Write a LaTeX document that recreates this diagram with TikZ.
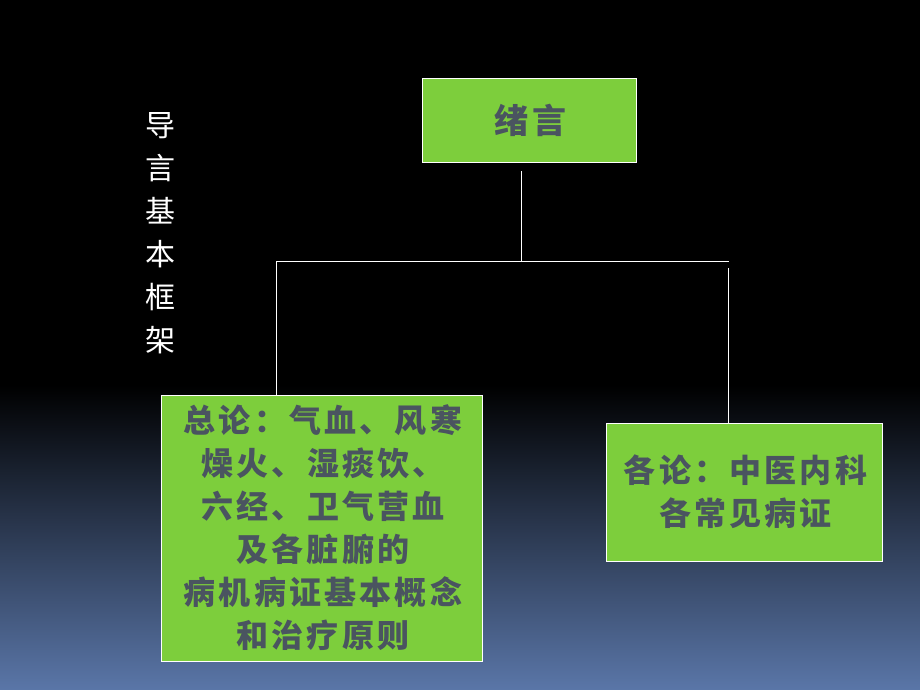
\documentclass[tikz,border=0pt]{standalone}
\usepackage{fontspec}
\newfontfamily\cjk{Noto Sans CJK SC}
\newfontfamily\cjksp{Noto Sans CJK SC}[LetterSpace=10]
\definecolor{boxgreen}{RGB}{125,206,60}
\definecolor{boxtext}{RGB}{74,84,96}
\definecolor{bgblue}{RGB}{90,118,168}
\begin{document}
\begin{tikzpicture}[x=1pt,y=-1pt,
  greenbox/.style={draw=white,line width=0.8pt,fill=boxgreen,inner sep=0pt,
    text=boxtext,font=\cjksp\bfseries\fontsize{32}{43}\selectfont,align=center},
  link/.style={draw=white,line width=0.9pt}]
\useasboundingbox (0,0) rectangle (920,690);
\fill[black] (0,0) rectangle (920,690);
\shade[top color=black,bottom color=bgblue] (0,385) rectangle (920,690);
\node[text=white,font=\cjk\fontsize{30}{43}\selectfont,align=center,inner sep=0pt] (title) at (160,233)
  {导\\言\\基\\本\\框\\架};
\node[greenbox,minimum width=214,minimum height=84,font=\cjksp\bfseries\fontsize{34}{43}\selectfont] (top) at (529,120) {\hspace{3pt}绪言};
\node[greenbox,minimum width=321,minimum height=266] (left) at (321.5,528)
  {\hspace{3pt}总论：气血、风寒\\\hspace{3pt}燥火、湿痰饮、\\\hspace{3pt}六经、卫气营血\\\hspace{3pt}及各脏腑的\\\hspace{3pt}病机病证基本概念\\\hspace{3pt}和治疗原则};
\node[greenbox,minimum width=276,minimum height=138] (right) at (744,492)
  {\hspace{3pt}各论：中医内科\\\hspace{3pt}各常见病证};
\coordinate (bus) at (521,261);
\coordinate (busl) at (276,261);
\coordinate (busr) at (729,261);
\coordinate (rtop) at (728,268);
\draw[link,shorten <=9pt] (bus |- top.south) -- (bus);
\draw[link] (busl) -- (busr);
\draw[link] (busl) -- (busl |- left.north);
\draw[link] (rtop) -- (rtop |- right.north);
\end{tikzpicture}
\end{document}
